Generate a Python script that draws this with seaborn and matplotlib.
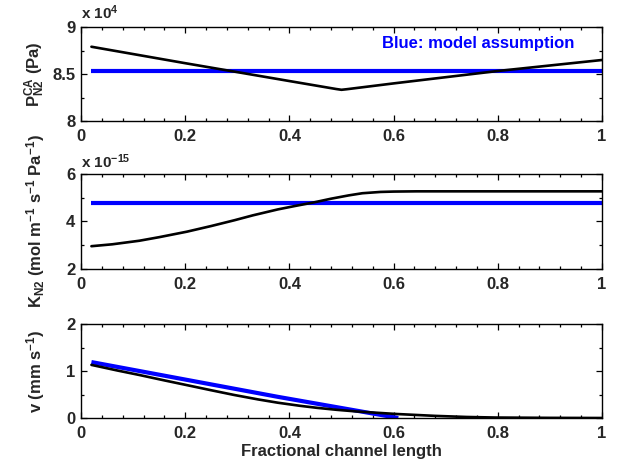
"""
Channel profiles: N2 pressure, permeability and velocity along the channel
"""
import numpy as np
import pandas as pd
import matplotlib
matplotlib.use('Agg')
import matplotlib.pyplot as plt
from matplotlib.ticker import AutoMinorLocator, MultipleLocator
import seaborn as sns

# top panel, P_N2^CA in units of 1e4 Pa
p_x = [0.02, 0.2, 0.4, 0.49, 0.5, 0.51, 0.6, 0.8, 1.0]
p_sim = [8.79, 8.615, 8.425, 8.34, 8.332, 8.338, 8.40, 8.532, 8.649]
p_model_x = [0.02, 1.0]
p_model = [8.532, 8.532]

# middle panel, K_N2 in units of 1e-15 mol m-1 s-1 Pa-1
k_x = [0.02, 0.06, 0.112, 0.15, 0.203, 0.25, 0.294, 0.33, 0.378, 0.41,
       0.446, 0.48, 0.514, 0.54, 0.575, 0.6, 0.644, 0.8, 1.0]
k_sim = [2.96, 3.04, 3.19, 3.34, 3.57, 3.81, 4.05, 4.26, 4.51, 4.65,
         4.80, 4.96, 5.10, 5.19, 5.245, 5.26, 5.27, 5.27, 5.27]
k_model_x = [0.02, 1.0]
k_model = [4.77, 4.77]

# bottom panel, v in mm s-1
v_x = [0.02, 0.07, 0.112, 0.16, 0.203, 0.25, 0.294, 0.34, 0.378, 0.42,
       0.454, 0.49, 0.53, 0.606, 0.68, 0.74, 0.795, 0.9, 1.0]
v_sim = [1.13, 1.01, 0.915, 0.80, 0.70, 0.59, 0.49, 0.395, 0.325, 0.26,
         0.215, 0.175, 0.138, 0.085, 0.045, 0.022, 0.01, 0.003, 0.0]
v_model_x = [0.02, 0.378, 0.609]
v_model = [1.19, 0.45, 0.0]

xticks = [0, 0.2, 0.4, 0.6, 0.8, 1]
xticklabels = ['0', '0.2', '0.4', '0.6', '0.8', '1']

sns.set_style('ticks')
plt.rcParams['font.family'] = ['Liberation Sans', 'DejaVu Sans']
plt.rcParams['font.weight'] = 'bold'
plt.rcParams['mathtext.fontset'] = 'custom'
plt.rcParams['mathtext.rm'] = 'Liberation Sans:bold'
plt.rcParams['mathtext.it'] = 'Liberation Sans:bold'
plt.rcParams['mathtext.bf'] = 'Liberation Sans:bold'
plt.rcParams['mathtext.default'] = 'bf'

FS = 12

fig = plt.figure(figsize=(6.21, 4.68), dpi=100)
L, W = 81 / 621, 521 / 621
ax1 = fig.add_axes([L, 1 - 121 / 468, W, 94 / 468])
ax2 = fig.add_axes([L, 1 - 269 / 468, W, 95 / 468])
ax3 = fig.add_axes([L, 1 - 418 / 468, W, 94 / 468])

panels = [
    (ax1, p_x, p_sim, p_model_x, p_model, (8, 9),
     r'$P^{CA}_{N2}$ (Pa)', [8, 8.5, 9], ['8', '8.5', '9']),
    (ax2, k_x, k_sim, k_model_x, k_model, (2, 6),
     r'$K_{N2}$ (mol m$^{-1}$ s$^{-1}$ Pa$^{-1}$)', [2, 4, 6], ['2', '4', '6']),
    (ax3, v_x, v_sim, v_model_x, v_model, (0, 2),
     r'v (mm s$^{-1}$)', [0, 1, 2], ['0', '1', '2']),
]

for ax, x, y, mx, my, ylim, ylabel, yt, ytl in panels:
    sim = pd.DataFrame({'x': x, 'y': y})
    mod = pd.DataFrame({'x': mx, 'y': my})
    sns.lineplot(data=mod, x='x', y='y', ax=ax, color='blue', linewidth=3.0,
                 solid_capstyle='butt')
    sns.lineplot(data=sim, x='x', y='y', ax=ax, color='black', linewidth=1.9)
    ax.set_xlim(0, 1)
    ax.set_ylim(*ylim)
    ax.set_xticks(xticks)
    ax.set_xticklabels(xticklabels)
    ax.set_yticks(yt)
    ax.set_yticklabels(ytl)
    ax.xaxis.set_minor_locator(MultipleLocator(0.04))
    ax.yaxis.set_minor_locator(AutoMinorLocator(2))
    ax.tick_params(which='both', direction='in', top=True, right=True,
                   labelsize=FS, width=0.9, color='black')
    ax.tick_params(which='major', length=4.5)
    ax.tick_params(axis='x', which='major', pad=6)
    ax.tick_params(axis='y', which='major', pad=4)
    ax.tick_params(which='minor', length=2.5)
    for s in ax.spines.values():
        s.set_visible(True)
        s.set_color('black')
        s.set_linewidth(1.0)
    ax.set_xlabel('')
    ax.set_ylabel(ylabel, fontsize=FS, fontweight='bold')
    ax.yaxis.set_label_coords(-0.065, 0.5)

ax1.text(0, 1.09, r'x 10$^{4}$', transform=ax1.transAxes, ha='left',
         va='baseline', fontsize=11)
ax2.text(0, 1.06, r'x 10$^{-15}$', transform=ax2.transAxes, ha='left',
         va='baseline', fontsize=11)
ax1.text(0.578, 8.827, 'Blue: model assumption', color='blue', fontsize=FS,
         ha='left', va='center')
ax3.set_xlabel('Fractional channel length', fontsize=FS, fontweight='bold',
               labelpad=2)

plt.savefig('out.png', dpi=100)
plt.close()
